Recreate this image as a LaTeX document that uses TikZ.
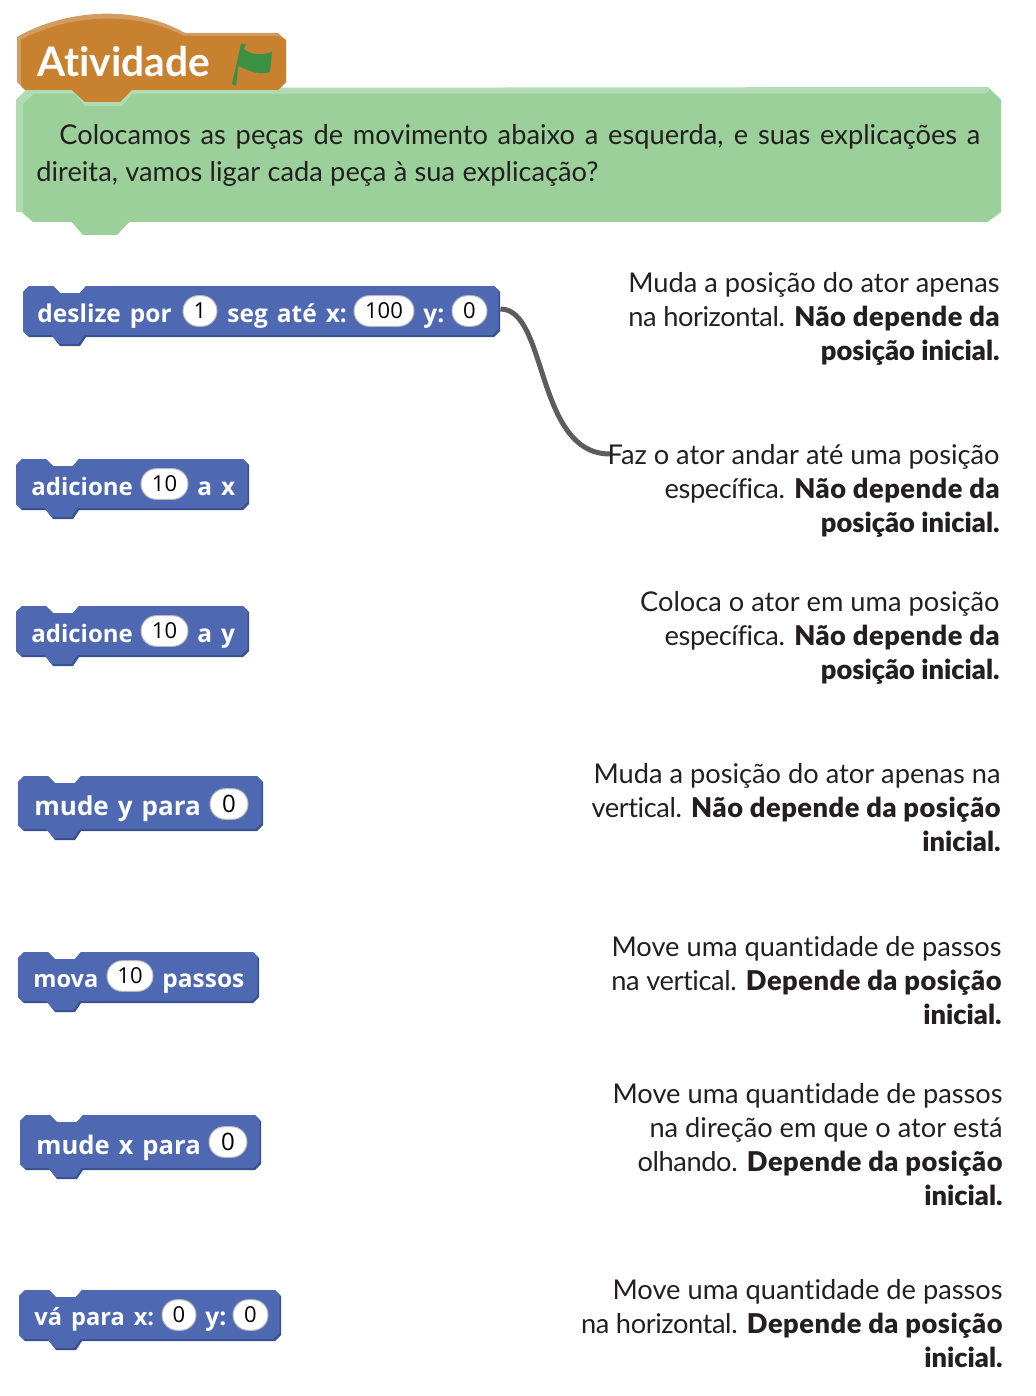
\documentclass[tikz,border=0pt]{standalone}
\usepackage{fontspec}
\setmainfont[Ligatures=NoCommon]{Lato}
\newfontfamily\blockfont{Open Sans}
\newfontfamily\heavyfont[Ligatures=NoCommon,LetterSpace=1.9]{Lato Black}
\newfontfamily\plainheavy[Ligatures=NoCommon]{Lato Black}
\newfontfamily\tightfont[Ligatures=NoCommon,LetterSpace=-1.5]{Lato}
\definecolor{bbase}{HTML}{4E68B1}
\definecolor{bdark}{HTML}{38508F}
\definecolor{orangeb}{HTML}{C8812F}
\definecolor{orangel}{HTML}{D39C62}
\definecolor{greenb}{HTML}{9BD09A}
\definecolor{greenl}{HTML}{B1DBB0}
\definecolor{flagg}{HTML}{3A9143}
\definecolor{inkc}{HTML}{231F20}
\definecolor{wirec}{HTML}{5C5C5E}
\tikzset{
  blockbox/.style={inner sep=0pt,draw=none},
  blocklabel/.style={inner sep=0pt,anchor=base west,text=white,font=\blockfont\bfseries},
  pillbox/.style={inner sep=0pt,fill=white,draw=black!28,line width=.5pt,rounded corners=7.6pt,text=black,font=\blockfont\fontsize{11}{13}\selectfont,minimum height=15.3pt},
  explbox/.style={inner sep=0pt,anchor=north east,align=right,text=inkc,font=\fontsize{13.62}{17}\selectfont},
  bodytext/.style={inner sep=0pt,anchor=base west,text=inkc,font=\fontsize{13.62}{17}\selectfont},
  wire/.style={draw=wirec,line width=2.5pt}
}
\newcommand\bpath{(6,0) -- (30,0) -- (37,7) -- (57,7) -- (63,0) -- ({\bw-6},0) -- (\bw,6) -- (\bw,{\bh-6}) -- ({\bw-6},\bh) -- (63,\bh) -- (57,{\bh+9}) -- (37,{\bh+9}) -- (30,\bh) -- (6,\bh) -- (0,{\bh-6}) -- (0,6) -- cycle}
% name x0 y0 x1 y1
\newcommand\sblock[5]{%
  \pgfmathsetmacro\bw{#4-#2}\pgfmathsetmacro\bh{#5-#3}%
  \begin{scope}[shift={(#2,#3)}]
    \fill[bdark] \bpath;
    \begin{scope}
      \clip \bpath;
      \fill[bbase,shift={(-1.5,-2)}] \bpath;
    \end{scope}
  \end{scope}
  \node[blockbox,minimum width={(#4-#2)*0.5pt},minimum height={(#5-#3)*0.5pt}] (#1) at ({(#2+#4)/2},{(#3+#5)/2}) {};
}
% size name x baseline text
\newcommand\blab[5][12.25]{\node[blocklabel] (#2) at (#3,#4) {\fontsize{#1}{15}\selectfont\spaceskip=4.5pt\relax #5};}
% name x0 x1 cy text
\newcommand\spill[5]{\node[pillbox,minimum width={(#3-#2)*0.5pt}] (#1) at ({(#2+#3)/2},#4) {#5};}
% name right-x first-baseline text
\newcommand\expl[4]{\node[explbox] (#1) at (#2,{#3-16}) {\rule{0pt}{8pt}#4};}
\newcommand\hv[1]{{\heavyfont #1}}
\newcommand\hw[1]{{\plainheavy #1}}
\newcommand\tg[1]{{\tightfont #1}}
\begin{document}
\begin{tikzpicture}[x=0.5pt,y=-0.5pt]
\useasboundingbox (0,0) rectangle (1036,1396);
% green block
\fill[greenl] (16,100) -- (28,88) -- (988,87) -- (1001,100) -- (1001,212) -- (987,222) -- (129,222) -- (117,235) -- (83,235) -- (72,222) -- (33,222) -- (21,212) -- (16,212) -- cycle;
\fill[greenb] (23,104) -- (34,94) -- (985,94) -- (990,90) -- (1001,100) -- (1001,212) -- (987,222) -- (129,222) -- (117,235) -- (83,235) -- (72,222) -- (33,222) -- (23,212) -- cycle;
% light edge round the hat tab
\fill[greenl] (72,90) -- (85,106) -- (122,106) -- (135,90) -- cycle;
% hat block
\fill[orangel] (17,37) .. controls (60,12) and (130,2) .. (185,33) -- (278,33) -- (286,40) -- (286,82) -- (278,90) -- (132,90) -- (120,102) -- (85,102) -- (72,90) -- (25,90) -- (17,82) -- cycle;
\fill[orangeb] (21,40) .. controls (62,17) and (130,8) .. (184,36) -- (278,36) -- (286,40) -- (286,82) -- (278,90) -- (132,90) -- (120,102) -- (85,102) -- (72,90) -- (25,90) -- (21,86) -- cycle;
\node[inner sep=0pt,anchor=base west,text=white,font=\bfseries\fontsize{20.35}{22}\selectfont] (title) at (37,77) {Atividade};
\fill[flagg] (232,84) -- (241,44) -- (246,44) -- (244,49) .. controls (252,56) and (262,55) .. (272,52) -- (270,72) .. controls (258,76) and (248,70) .. (238.5,66) -- (236,86) -- cycle;
\node[bodytext] (intro1) at (59,145) {\makebox[460.5pt][s]{Colocamos as peças de movimento abaixo a esquerda, e suas explicações a}};
\node[bodytext] (intro2) at (36,182) {\makebox[281pt][s]{direita, vamos ligar cada peça à sua explicação?}};
% blocks
\sblock{b1}{23}{286}{500}{337}
\blab{b1a}{37}{322}{deslize por}
\spill{b1p}{183}{217}{311}{1}
\blab{b1b}{227}{322}{seg até x:}
\spill{b1q}{354}{414}{311}{100}
\blab{b1c}{423}{322}{y:}
\spill{b1r}{452}{487}{311}{0}
\sblock{b2}{16}{459}{249}{510}
\blab[12]{b2a}{31}{495}{adicione}
\spill{b2p}{141}{188}{484}{10}
\blab{b2b}{197}{495}{a x}
\sblock{b3}{16}{606}{249}{657}
\blab[12]{b3a}{31}{642}{adicione}
\spill{b3p}{141}{188}{631}{10}
\blab{b3b}{197}{642}{a y}
\sblock{b4}{18}{776}{263}{831}
\blab[13]{b4a}{34}{815}{mude y para}
\spill{b4p}{210}{248}{804}{\fontsize{12}{14}\selectfont 0}
\sblock{b5}{18}{952}{259}{1003}
\blab[11.8]{b5a}{33}{987}{mova}
\spill{b5p}{107}{153}{976}{10}
\blab{b5b}{162}{987}{passos}
\sblock{b6}{20}{1115}{261}{1170}
\blab[12.8]{b6a}{36}{1154}{mude x para}
\spill{b6p}{209}{247}{1142}{\fontsize{12}{14}\selectfont 0}
\sblock{b7}{19}{1290}{281}{1341}
\blab[11.8]{b7a}{34}{1325}{vá para x:}
\spill{b7p}{162}{196}{1315}{0}
\blab{b7b}{205}{1325}{y:}
\spill{b7q}{233}{268}{1315}{0}
% explanations
\expl{e1}{1000}{288}{Muda a posição do ator apenas\\\tg{na horizontal.} \hv{Não depende da}\\\hw{posição inicial.}}
\expl{e2}{1000}{460}{Faz o ator andar até uma posição\\\tg{específica.} \hv{Não depende da}\\\hw{posição inicial.}}
\expl{e3}{1000}{607}{Coloca o ator em uma posição\\\tg{específica.} \hv{Não depende da}\\\hw{posição inicial.}}
\expl{e4}{1001}{779}{Muda a posição do ator apenas na\\\tg{vertical.} \hv{Não depende da posição}\\\hw{inicial.}}
\expl{e5}{1002}{952}{Move uma quantidade de passos\\\tg{na vertical.} \hv{Depende da posição}\\\hw{inicial.}}
\expl{e6}{1003}{1099}{Move uma quantidade de passos\\na direção em que o ator está\\\tg{olhando.} \hv{Depende da posição}\\\hw{inicial.}}
\expl{e7}{1003}{1295}{Move uma quantidade de passos\\\tg{na horizontal.} \hv{Depende da posição}\\\hw{inicial.}}
% connector
\coordinate (fazend) at (610,454);
\draw[wire] ([yshift=1.25pt]b1.east) .. controls (548,309) and (535,454) .. (fazend);
\end{tikzpicture}
\end{document}
